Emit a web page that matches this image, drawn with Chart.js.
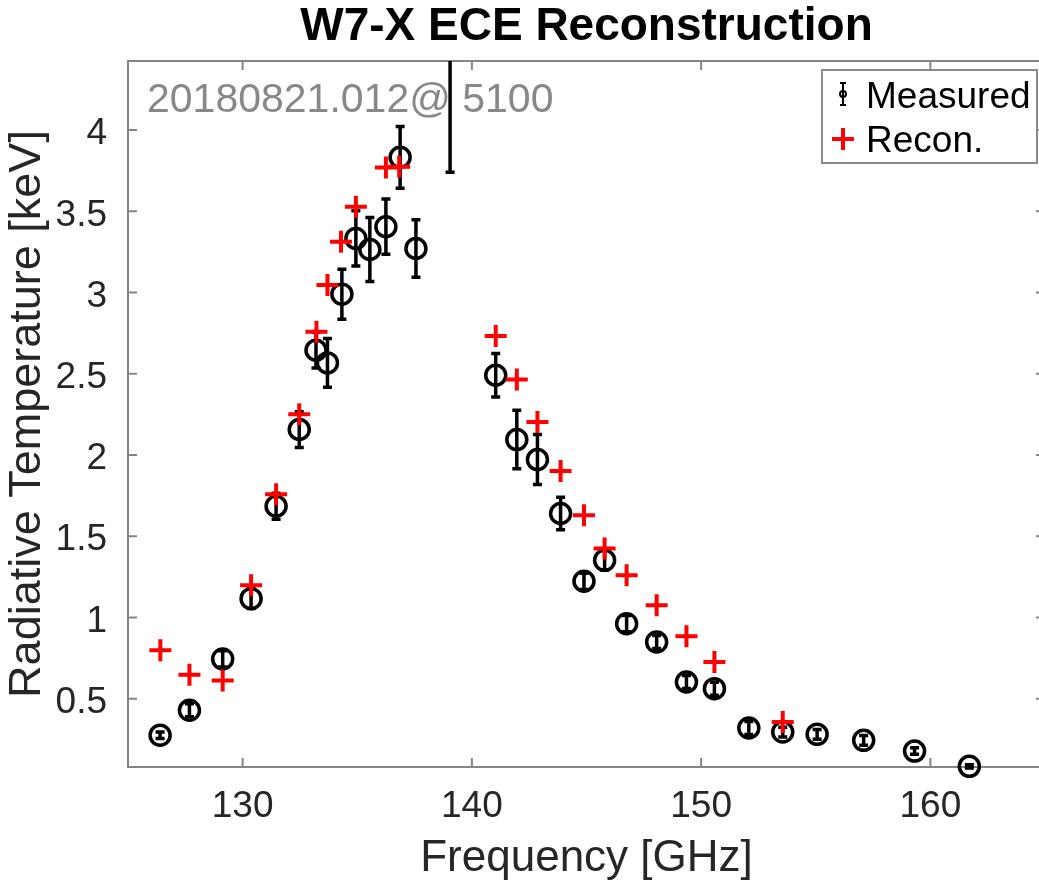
<!DOCTYPE html>
<html>
<head>
<meta charset="utf-8">
<title>W7-X ECE Reconstruction</title>
<script src="https://cdn.jsdelivr.net/npm/chart.js@4.4.1/dist/chart.umd.min.js"></script>
<style>
  html, body { margin: 0; padding: 0; background: #fff; overflow: hidden; }
  #wrap { width: 1060px; height: 886px; }
</style>
</head>
<body>
<div id="wrap"><canvas id="eceChart" width="1060" height="886"></canvas></div>
<script>
// measured ECE channels: frequency [GHz], radiative temperature [keV], error [keV]
const measFreq = [126.4, 127.68, 129.13, 130.37, 131.46, 132.47, 133.2, 133.7, 134.33, 134.94,
                  135.55, 136.25, 136.87, 137.56, 139.05, 141.04, 141.96, 142.86, 143.87, 144.89,
                  145.79, 146.75, 148.06, 149.36, 150.58, 152.08, 153.56, 155.06, 157.09, 159.31, 161.7];
const measTe = [0.275, 0.429, 0.745, 1.116, 1.685, 2.157, 2.645, 2.567, 2.99, 3.333,
                3.265, 3.405, 3.832, 3.271, 4.9, 2.491, 2.095, 1.972, 1.64, 1.223,
                1.352, 0.962, 0.849, 0.603, 0.562, 0.32, 0.295, 0.281, 0.244, 0.178, 0.084];
const measErr = [0.02, 0.04, 0.05, 0.06, 0.08, 0.11, 0.11, 0.15, 0.154, 0.17,
                 0.197, 0.17, 0.19, 0.177, 1.16, 0.134, 0.18, 0.154, 0.1, 0.05,
                 0.06, 0.05, 0.04, 0.04, 0.04, 0.04, 0.03, 0.03, 0.03, 0.02, 0.01];

// forward-modelled (reconstructed) temperatures
const reconFreq = [126.41, 127.68, 129.13, 130.37, 131.46, 132.47, 133.22, 133.7, 134.29, 134.94,
                   136.25, 136.83, 141.04, 141.96, 142.86, 143.87, 144.89, 145.79, 146.75, 148.06,
                   149.36, 150.58, 153.56];
const reconTe = [0.798, 0.648, 0.613, 1.198, 1.759, 2.251, 2.758, 3.046, 3.312, 3.528,
                 3.77, 3.774, 2.732, 2.465, 2.204, 1.902, 1.629, 1.424, 1.26, 1.075,
                 0.884, 0.726, 0.357];

const xTicks = [130, 140, 150, 160];
const yTicks = [0.5, 1, 1.5, 2, 2.5, 3, 3.5, 4];

const shotLabel = '20180821.012@ 5100';
const FONT = '"Liberation Sans", Arial, Helvetica, sans-serif';
const axisGray = '#868686';
const textDark = '#262626';

Chart.defaults.font.family = FONT;

// box around the axes with inward ticks on all four sides, plus the shot id
const boxPlugin = {
    id: 'axesBox',
    beforeDatasetsDraw(chart) {
        const { ctx, chartArea: a, scales: { x, y } } = chart;
        const tl = 9;
        ctx.save();
        ctx.strokeStyle = axisGray;
        ctx.lineWidth = 2;
        ctx.strokeRect(a.left, a.top, a.right - a.left, a.bottom - a.top);
        ctx.beginPath();
        xTicks.forEach(v => {
            const px = x.getPixelForValue(v);
            ctx.moveTo(px, a.bottom); ctx.lineTo(px, a.bottom - tl);
            ctx.moveTo(px, a.top); ctx.lineTo(px, a.top + tl);
        });
        yTicks.forEach(v => {
            const py = y.getPixelForValue(v);
            ctx.moveTo(a.left, py); ctx.lineTo(a.left + tl, py);
            ctx.moveTo(a.right, py); ctx.lineTo(a.right - tl, py);
        });
        ctx.stroke();

        ctx.fillStyle = '#888888';
        ctx.font = '41px ' + FONT;
        ctx.textBaseline = 'alphabetic';
        ctx.textAlign = 'left';
        ctx.fillText(shotLabel, a.left + 19, a.top + 51);
        ctx.restore();
    }
};

// vertical error bars with caps, clipped only at the top of the axes
const errorBarPlugin = {
    id: 'errorBars',
    beforeDatasetsDraw(chart) {
        const { ctx, chartArea: a, scales: { x, y } } = chart;
        const cap = 4.5;
        ctx.save();
        ctx.beginPath();
        ctx.rect(0, a.top, chart.width, chart.height - a.top);
        ctx.clip();
        ctx.strokeStyle = '#000';
        ctx.lineWidth = 3.5;
        ctx.beginPath();
        measFreq.forEach((f, i) => {
            const px = x.getPixelForValue(f);
            const lo = y.getPixelForValue(measTe[i] - measErr[i]);
            const hi = y.getPixelForValue(measTe[i] + measErr[i]);
            ctx.moveTo(px, lo); ctx.lineTo(px, hi);
            ctx.moveTo(px - cap, lo); ctx.lineTo(px + cap, lo);
            ctx.moveTo(px - cap, hi); ctx.lineTo(px + cap, hi);
        });
        ctx.stroke();
        ctx.restore();
    }
};

// title centred over the axes
const titlePlugin = {
    id: 'plotTitle',
    afterDraw(chart) {
        const { ctx, chartArea: a } = chart;
        ctx.save();
        ctx.fillStyle = '#000';
        ctx.font = 'bold 46px ' + FONT;
        ctx.textAlign = 'center';
        ctx.textBaseline = 'alphabetic';
        ctx.fillText('W7-X ECE Reconstruction', (a.left + a.right) / 2, 40);
        ctx.restore();
    }
};

// legend box in the upper right corner
const legendPlugin = {
    id: 'boxLegend',
    afterDraw(chart) {
        const { ctx, chartArea: a } = chart;
        const w = 215, h = 93;
        const bx = a.right - 8 - w, by = a.top + 9;
        const ix = bx + 21;
        ctx.save();
        ctx.fillStyle = '#fff';
        ctx.fillRect(bx, by, w, h);
        ctx.strokeStyle = '#8a8a8a';
        ctx.lineWidth = 2;
        ctx.strokeRect(bx, by, w, h);

        // errorbar symbol
        let cy = by + 24;
        ctx.strokeStyle = '#000';
        ctx.lineWidth = 2;
        ctx.beginPath();
        ctx.moveTo(ix, cy - 11); ctx.lineTo(ix, cy + 11);
        ctx.moveTo(ix - 3, cy - 11); ctx.lineTo(ix + 3, cy - 11);
        ctx.moveTo(ix - 3, cy + 11); ctx.lineTo(ix + 3, cy + 11);
        ctx.stroke();
        ctx.beginPath();
        ctx.arc(ix, cy, 3, 0, Math.PI * 2);
        ctx.stroke();

        // plus symbol
        cy = by + 69;
        ctx.strokeStyle = '#ff0000';
        ctx.lineWidth = 4;
        ctx.beginPath();
        ctx.moveTo(ix - 11, cy); ctx.lineTo(ix + 11, cy);
        ctx.moveTo(ix, cy - 11); ctx.lineTo(ix, cy + 11);
        ctx.stroke();

        ctx.fillStyle = '#000';
        ctx.font = '37px ' + FONT;
        ctx.textAlign = 'left';
        ctx.textBaseline = 'alphabetic';
        const ds = chart.data.datasets;
        ctx.fillText(ds[0].label, bx + 44, by + 38);
        ctx.fillText(ds[1].label, bx + 44, by + 82);
        ctx.restore();
    }
};

const ctx = document.getElementById('eceChart').getContext('2d');
const eceChart = new Chart(ctx, {
    type: 'scatter',
    data: {
        datasets: [{
            label: 'Measured',
            data: measFreq.map((f, i) => ({ x: f, y: measTe[i] })),
            pointStyle: 'circle',
            pointRadius: 10,
            pointHoverRadius: 10,
            borderWidth: 3.5,
            borderColor: '#000',
            backgroundColor: 'rgba(0,0,0,0)',
            clip: { left: false, top: 0, right: false, bottom: false },
            order: 2
        }, {
            label: 'Recon.',
            data: reconFreq.map((f, i) => ({ x: f, y: reconTe[i] })),
            pointStyle: 'cross',
            pointRadius: 11,
            pointHoverRadius: 11,
            borderWidth: 4,
            borderColor: '#ff0000',
            backgroundColor: '#ff0000',
            order: 1
        }]
    },
    options: {
        responsive: false,
        animation: false,
        devicePixelRatio: 1,
        layout: { padding: { left: 0, top: 61, right: 14, bottom: 0 } },
        plugins: {
            legend: { display: false },
            tooltip: { enabled: false },
            title: { display: false }
        },
        scales: {
            x: {
                type: 'linear',
                min: 125,
                max: 165,
                afterBuildTicks: s => { s.ticks = xTicks.map(v => ({ value: v })); },
                afterFit: s => { s.height = 119; },
                grid: { display: false },
                border: { display: false },
                ticks: {
                    font: { size: 37 }, color: textDark, padding: 10,
                    maxRotation: 0, autoSkip: false, callback: v => String(v)
                },
                title: {
                    display: true, text: 'Frequency [GHz]', color: textDark,
                    font: { size: 44 }, padding: { top: 0, bottom: 1 }
                }
            },
            y: {
                type: 'linear',
                min: 0.08,
                max: 4.425,
                afterBuildTicks: s => { s.ticks = yTicks.map(v => ({ value: v })); },
                afterFit: s => { s.width = 128; },
                grid: { display: false },
                border: { display: false },
                ticks: {
                    font: { size: 37 }, color: textDark, padding: 13, labelOffset: 4,
                    autoSkip: false, callback: v => String(v)
                },
                title: {
                    display: true, text: 'Radiative Temperature [keV]', color: textDark,
                    font: { size: 45 }, padding: { top: 1, bottom: 0 }
                }
            }
        }
    },
    plugins: [boxPlugin, errorBarPlugin, titlePlugin, legendPlugin]
});
</script>
</body>
</html>
